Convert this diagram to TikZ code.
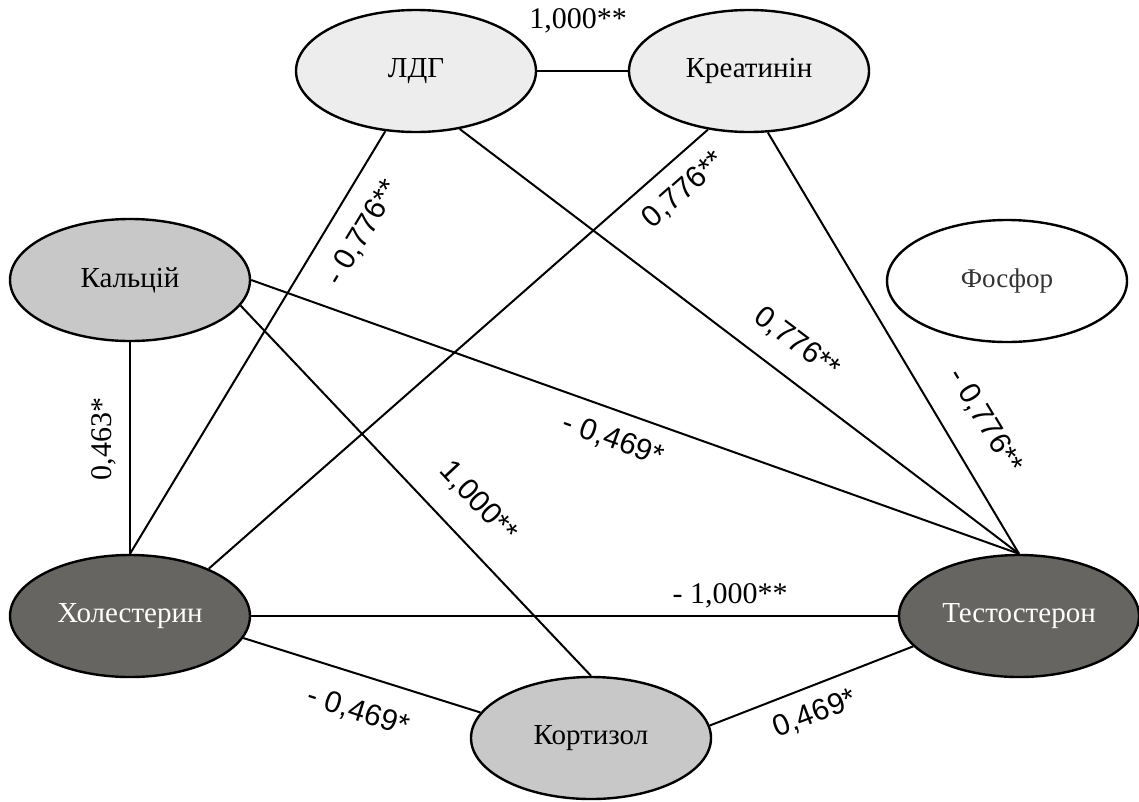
\documentclass[tikz,border=0pt]{standalone}
\usepackage{fontspec}
\setmainfont{Liberation Serif}
\newfontfamily\labsans{Liberation Sans}
\usetikzlibrary{shapes.geometric}
\definecolor{palegray}{HTML}{EDEDED}
\definecolor{midgray}{HTML}{C8C8C8}
\definecolor{darkgray}{HTML}{666561}
\tikzset{
  bubble/.style={ellipse, draw=black, line width=2.4pt, minimum width=240pt,
    minimum height=122pt, inner sep=0pt, font=\fontsize{29}{31}\selectfont},
  light/.style={bubble, fill=palegray},
  medium/.style={bubble, fill=midgray},
  dark/.style={bubble, fill=darkgray, text=white},
  blank/.style={bubble, fill=white},
  link/.style={line width=2pt, draw=black},
  sanslab/.style={inner sep=0pt, font=\labsans\fontsize{30}{32}\selectfont},
  seriflab/.style={inner sep=0pt, font=\fontsize{30}{32}\selectfont}
}
\begin{document}
\begin{tikzpicture}[x=1pt,y=-1pt]
\useasboundingbox (0,0) rectangle (1139,801);

% the seven measured quantities
\node[light]  (ldg) at (416,71)   {ЛДГ};
\node[light]  (kre) at (749,71)   {Креатинін};
\node[medium] (cal) at (130,280)  {Кальцій};
\node[blank, text=black!80, font=\fontsize{27}{29}\selectfont] (fos) at (1007,281) {Фосфор};
\node[dark]   (hol) at (130,616)  {Холестерин};
\node[dark]   (tes) at (1019,616) {Тестостерон};
\node[medium] (kor) at (591,738)  {Кортизол};

% correlations
\draw[link] (ldg.east) -- (kre.west);
\draw[link] (ldg.-117) -- (hol.north);
\draw[link] (ldg.-53) -- (tes.north);
\draw[link] (kre.-125) -- (hol.31);
\draw[link] (kre.-73) -- (tes.north);
\draw[link] (cal.east) -- (tes.north);
\draw[link] (cal.-13) -- (kor.north);
\draw[link] (cal.south) -- (hol.north);
\draw[link] (hol.east) -- (tes.west);
\draw[link] (hol.-11) -- (kor.167);
\draw[link] (tes.-164) -- (kor.6);

% coefficients
\node[seriflab] (c1) at (578,21) {1,000**};
\node[sanslab, rotate=59] (c2) at (363,233) {- 0,776**};
\node[sanslab, rotate=41.5] (c3) at (684,190) {0,776**};
\node[sanslab, rotate=-37] (c4) at (797,343) {0,776**};
\node[sanslab, rotate=-59] (c5) at (985,421) {- 0,776**};
\node[sanslab, rotate=-20] (c6) at (613,440) {- 0,469*};
\node[sanslab, rotate=-47] (c7) at (478,502) {1,000**};
\node[seriflab, rotate=90] (c8) at (104,439) {0,463*};
\node[seriflab] (c9) at (730,596) {- 1,000**};
\node[sanslab, rotate=-18] (c10) at (358,712) {- 0,469*};
\node[sanslab, rotate=21] (c11) at (815,714) {0,469*};
\end{tikzpicture}
\end{document}
